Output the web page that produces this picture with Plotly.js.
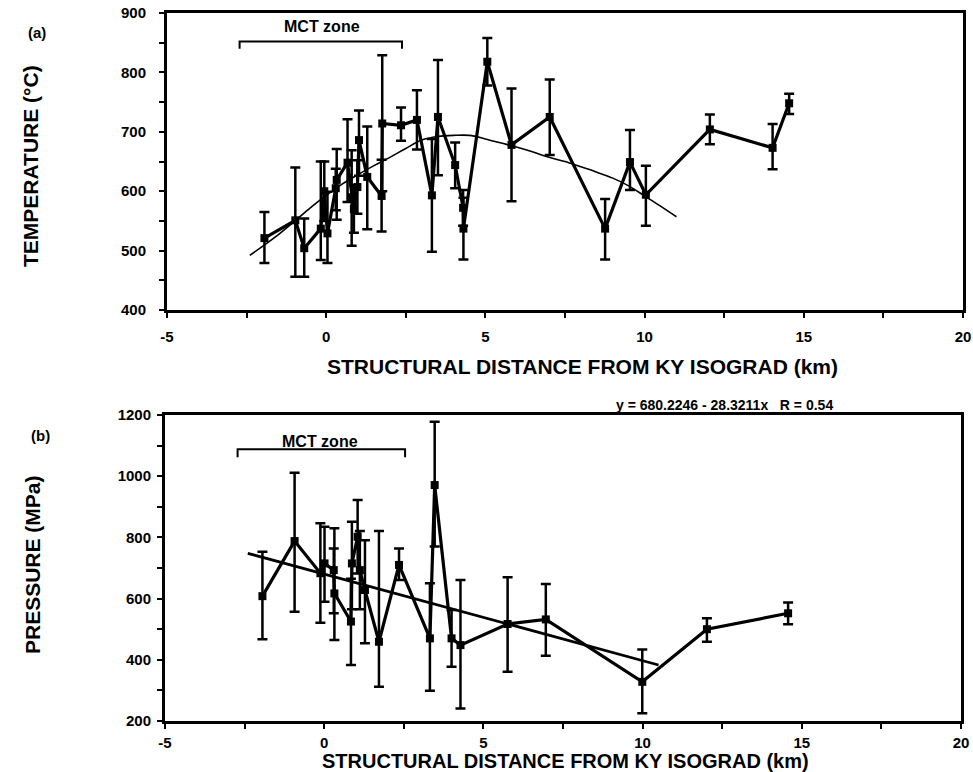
<!DOCTYPE html>
<html>
<head>
<meta charset="utf-8">
<script src="https://cdn.plot.ly/plotly-3.0.1.min.js"></script>
<style>html,body{margin:0;padding:0;background:#fff;}#chart{width:973px;height:772px;}</style>
</head>
<body>
<div id="chart"></div>
<script>
// ---- Panel (a): temperature vs structural distance ----
const tempX = [-1.94, -0.97, -0.69, -0.17, -0.06, 0.04, 0.30, 0.33, 0.67, 0.80, 0.87, 0.98, 1.03, 1.29, 1.74, 1.76, 2.35, 2.85, 3.32, 3.51, 4.05, 4.30, 4.31, 5.06, 5.82, 7.02, 8.76, 9.54, 10.04, 12.05, 14.02, 14.54];
const tempY = [521, 551, 504, 537, 600, 529, 605, 619, 648, 590, 570, 607, 686, 624, 592, 714, 711, 720, 593, 725, 644, 572, 537, 818, 678, 725, 537, 649, 594, 704, 673, 748];
const tempErrPlus  = [44, 89, 50, 113, 50, 70, 33, 52, 73, 79, 40, 45, 50, 85, 61, 115, 30, 50, 95, 96, 38, 30, 52, 40, 95, 63, 50, 54, 49, 25, 40, 16];
const tempErrMinus = [42, 95, 48, 53, 50, 50, 37, 67, 66, 82, 40, 45, 60, 88, 60, 114, 26, 50, 95, 98, 39, 30, 52, 40, 95, 64, 52, 47, 52, 25, 36, 18];
// smooth trend curve through the temperature data
const trendX = [-2.4, -1.5, -1.0, -0.5, 0, 0.5, 1.0, 1.5, 2.0, 2.5, 3.0, 3.5, 4.0, 4.5, 5.0, 5.5, 6.0, 6.5, 7.0, 7.5, 8.0, 8.5, 9.0, 9.5, 10.0, 10.5, 11.0];
const trendY = [492, 527, 549, 572, 593, 612, 628, 643, 657, 672, 686, 692, 694, 694, 688, 681, 674, 666, 657, 650, 641, 632, 622, 609, 592, 575, 557];

// ---- Panel (b): pressure vs structural distance ----
const presX = [-1.94, -0.93, -0.12, 0.01, 0.30, 0.32, 0.84, 0.87, 1.05, 1.12, 1.28, 1.72, 2.35, 3.32, 3.47, 4.00, 4.28, 5.76, 6.96, 9.99, 12.02, 14.57];
const presY = [608, 788, 683, 715, 693, 617, 525, 715, 802, 693, 628, 459, 710, 470, 971, 470, 448, 517, 532, 328, 500, 552];
const presErrPlus  = [145, 223, 163, 120, 71, 213, 140, 136, 120, 128, 163, 362, 54, 180, 207, 93, 213, 153, 116, 106, 36, 35];
const presErrMinus = [141, 231, 162, 125, 141, 152, 142, 150, 120, 128, 174, 147, 49, 171, 201, 93, 207, 156, 119, 103, 41, 36];
// linear regression line y = 680.2246 - 28.3211x (end points)
const fitX = [-2.4, 10.5];
const fitY = [748, 383];

// ---- tick labels ----
const xTickVals = [-5, 0, 5, 10, 15, 20];
const xTickText = ['-5', '0', '5', '10', '15', '20'];
const tTickVals = [400, 500, 600, 700, 800, 900];
const tTickText = ['400', '500', '600', '700', '800', '900'];
const pTickVals = [200, 400, 600, 800, 1000, 1200];
const pTickText = ['200', '400', '600', '800', '1000', '1200'];

const FONT = 'Liberation Sans, Arial, Helvetica, sans-serif';
const W = 973, H = 772;
const px = v => v / W;
const py = v => 1 - v / H;

const errStyle = {type: 'data', symmetric: false, color: '#000', thickness: 2.5, width: 5};

const traces = [
  {x: trendX, y: trendY, xaxis: 'x', yaxis: 'y', mode: 'lines',
   line: {color: '#000', width: 1.6, shape: 'spline'}, hoverinfo: 'skip'},
  {x: tempX, y: tempY, xaxis: 'x', yaxis: 'y', mode: 'lines+markers',
   line: {color: '#000', width: 3.2},
   marker: {symbol: 'square', size: 8, color: '#000'},
   error_y: Object.assign({array: tempErrPlus, arrayminus: tempErrMinus}, errStyle)},
  {x: fitX, y: fitY, xaxis: 'x2', yaxis: 'y2', mode: 'lines',
   line: {color: '#000', width: 2.8}, hoverinfo: 'skip'},
  {x: presX, y: presY, xaxis: 'x2', yaxis: 'y2', mode: 'lines+markers',
   line: {color: '#000', width: 3.2},
   marker: {symbol: 'square', size: 8, color: '#000'},
   error_y: Object.assign({array: presErrPlus, arrayminus: presErrMinus}, errStyle)}
];

const tickFont = {family: FONT, size: 15, color: '#000', weight: 'bold'};
function xAx(domain, anchor, standoff) {
  return {domain: domain, anchor: anchor, range: [-5, 20], tickmode: 'array',
    tickvals: xTickVals, ticktext: xTickText, ticks: 'outside', ticklen: 5, tickwidth: 2,
    tickcolor: '#000', showline: true, linewidth: 3, linecolor: '#000', mirror: true,
    showgrid: false, zeroline: false, tickfont: tickFont, ticklabelstandoff: standoff,
    ticklabeloverflow: 'allow',
    minor: {dtick: 2.5, tick0: 0, ticks: 'outside', ticklen: 5, tickwidth: 2, tickcolor: '#000', showgrid: false}};
}
function yAx(domain, anchor, range, vals, text, dm, standoff) {
  return {domain: domain, anchor: anchor, range: range, tickmode: 'array',
    tickvals: vals, ticktext: text, ticks: 'outside', ticklen: 5, tickwidth: 2,
    tickcolor: '#000', showline: true, linewidth: 3, linecolor: '#000', mirror: true,
    showgrid: false, zeroline: false, tickfont: tickFont, ticklabelstandoff: standoff,
    ticklabeloverflow: 'allow',
    minor: {dtick: dm, tick0: range[0], ticks: 'outside', ticklen: 5, tickwidth: 2, tickcolor: '#000', showgrid: false}};
}

const bold = (size) => ({family: FONT, size: size, color: '#000', weight: 'bold'});
function note(text, xref, yref, x, y, size, angle) {
  return {text: text, xref: xref, yref: yref, x: x, y: y, showarrow: false,
    xanchor: 'center', yanchor: 'middle', textangle: angle || 0, font: bold(size)};
}

const layout = {
  width: W, height: H, margin: {l: 0, r: 0, t: 0, b: 0},
  paper_bgcolor: '#fff', plot_bgcolor: '#fff', showlegend: false,
  font: {family: FONT, color: '#000'},
  xaxis: xAx([px(167), px(963)], 'y', 6),
  yaxis: yAx([py(310), py(13)], 'x', [400, 900], tTickVals, tTickText, 50, 10),
  xaxis2: xAx([px(165), px(961)], 'y2', 1),
  yaxis2: yAx([py(721), py(415)], 'x2', [200, 1200], pTickVals, pTickText, 100, 3),
  shapes: [
    {type: 'path', xref: 'x', yref: 'y', path: 'M -2.72,840 L -2.72,852 L 2.38,852 L 2.38,840', line: {color: '#000', width: 2}},
    {type: 'path', xref: 'x2', yref: 'y2', path: 'M -2.72,1062 L -2.72,1088 L 2.54,1088 L 2.54,1062', line: {color: '#000', width: 2}}
  ],
  annotations: [
    note('MCT zone', 'x', 'y', -0.12, 878, 16),
    note('MCT zone', 'x2', 'y2', -0.12, 1115, 16),
    note('(a)', 'paper', 'paper', px(37), py(32), 15),
    note('(b)', 'paper', 'paper', px(40), py(435), 15),
    note('TEMPERATURE (°C)', 'paper', 'paper', px(30), py(166), 21, -90),
    note('PRESSURE (MPa)', 'paper', 'paper', px(32), py(565), 21, -90),
    note('STRUCTURAL DISTANCE FROM KY ISOGRAD (km)', 'paper', 'paper', px(582), py(366), 21),
    note('STRUCTURAL DISTANCE FROM KY ISOGRAD (km)', 'paper', 'paper', px(565), py(761), 20),
    note('y = 680.2246 - 28.3211x   R = 0.54', 'paper', 'paper', px(724), py(405), 14)
  ]
};

Plotly.newPlot('chart', traces, layout, {staticPlot: true, displayModeBar: false});
</script>
</body>
</html>
